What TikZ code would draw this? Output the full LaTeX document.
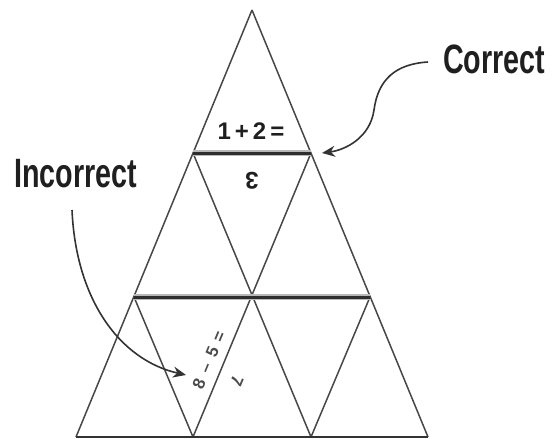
\documentclass[tikz,border=0pt]{standalone}
\usepackage{fontspec}
\setmainfont{Liberation Sans}
\usetikzlibrary{arrows.meta,calc}
\begin{document}
\begin{tikzpicture}[x=1pt,y=-1pt,
  edge/.style={draw=black!72, line width=1.5pt},
  barbg/.style={draw=black!28, line width=5.5pt},
  barcore/.style={draw=black!82, line width=3pt},
  base/.style={draw=black!80, line width=2pt},
  lbl/.style={font=\bfseries\fontsize{41}{41}\selectfont, text=black!88, xscale=0.70, inner sep=0pt},
  mathtxt/.style={font=\bfseries\fontsize{24}{24}\selectfont, text=black!88, inner sep=0pt},
  smalltxt/.style={font=\bfseries\fontsize{17}{17}\selectfont, text=black!70, inner sep=0pt},
  pointer/.style={draw=black!80, line width=1.6pt, -{Stealth[length=13pt,width=11pt]}}
]
\useasboundingbox (0,0) rectangle (555,439);
% vertices
\coordinate (A) at (252,10);
\coordinate (B1) at (193,153);
\coordinate (B2) at (311,153);
\coordinate (C1) at (134,297);
\coordinate (C2) at (252,297);
\coordinate (C3) at (370,297);
\coordinate (D1) at (76,437);
\coordinate (D2) at (193,437);
\coordinate (D3) at (311,437);
\coordinate (D4) at (428,437);
% edges
\draw[edge] (A) -- (D1);
\draw[edge] (A) -- (D4);
\draw[edge] (B1) -- (D3);
\draw[edge] (B2) -- (D2);
\draw[edge] (C1) -- (D2);
\draw[edge] (C3) -- (D3);
% bars
\draw[barbg] (B1) -- (B2);
\draw[barcore] ([yshift=-0.8pt]B1) -- ([yshift=-0.8pt]B2);
\draw[barbg] (C1) -- (C3);
\draw[barcore] ([yshift=-0.8pt]C1) -- ([yshift=-0.8pt]C3);
\draw[base] (D1) -- (D4);
% texts
\node[mathtxt] (t12) at (251,131) {1\,+\,2\,=};
\node[mathtxt, rotate=180] (t3) at (252,181) {3};
\node[smalltxt, rotate=67.4] (t85) at (209,360) {8 \,–\, 5 \,=};
\node[smalltxt, rotate=-112.6] (t7) at (237,381) {7};
% labels
\node[lbl, anchor=west] (inc) at (14,174) {Incorrect};
\node[lbl, anchor=west] (cor) at (443,59) {Correct};
% arrows
\coordinate (ctip) at (322,153);
\coordinate (itip) at (186,375);
\draw[pointer] ($(cor.west)+(-15,3)$) .. controls (395,64) and (378,80) .. (374,110)
   .. controls (370,138) and (345,150) .. (ctip);
\draw[pointer] ($(inc.west)+(58,36)$) .. controls (76,300) and (120,360) .. (itip);
\end{tikzpicture}
\end{document}
